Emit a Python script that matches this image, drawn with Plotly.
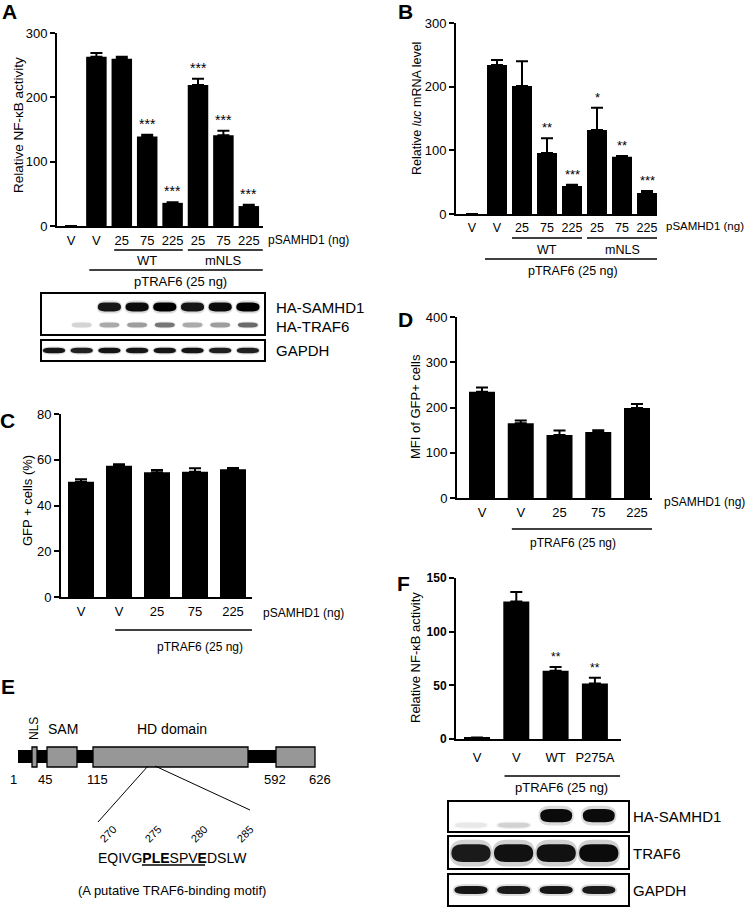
import plotly.graph_objects as go

# ---------------- data ----------------
A_labels = ["V", "V", "25", "75", "225", "25", "75", "225"]
A_values = [0, 263, 260, 139, 36, 219, 141, 31]
A_err_top = [0, 269, 263, 142, 37, 229, 148, 33]
A_stars = ["", "", "", "***", "***", "***", "***", "***"]

B_labels = ["V", "V", "25", "75", "225", "25", "75", "225"]
B_values = [0, 234, 201, 96, 44, 132, 90, 33]
B_err_top = [0, 242, 240, 119, 46, 167, 91, 36]
B_stars = ["", "", "", "**", "***", "*", "**", "***"]

C_labels = ["V", "V", "25", "75", "225"]
C_values = [50.4, 57.4, 54.5, 54.8, 55.9]
C_err_top = [51.5, 58.0, 55.5, 56.3, 56.4]

D_labels = ["V", "V", "25", "75", "225"]
D_values = [235, 165, 139, 146, 199]
D_err_top = [244, 171, 149, 150, 208]

F_labels = ["V", "V", "WT", "P275A"]
F_values = [1, 128, 63.5, 51.7]
F_err_top = [1.5, 137, 67, 57]
F_stars = ["", "", "**", "**"]

# western blot band intensities (0 = no band, 1 = saturated)
blotA_ha_samhd1 = [0, 0, 0.9, 0.95, 1.0, 0.9, 0.95, 1.0]
blotA_ha_traf6 = [0, 0.15, 0.3, 0.35, 0.5, 0.3, 0.35, 0.55]
blotA_gapdh = [0.9, 0.85, 0.9, 0.9, 0.9, 0.9, 0.85, 0.85]
blotF_ha_samhd1 = [0.06, 0.12, 0.95, 0.95]
blotF_traf6 = [0.88, 0.92, 0.92, 0.95]
blotF_gapdh = [0.9, 0.88, 0.9, 0.88]

E_residues = ["1", "45", "115", "592", "626"]
E_domains = ["NLS", "SAM", "HD domain"]
E_motif_numbers = ["270", "275", "280", "285"]
E_sequence = "EQIVG<b>PLE</b>SPV<b>E</b>DSLW"
E_caption = "(A putative TRAF6-binding motif)"

# ---------------- helpers ----------------
W, H = 748, 908
FONT = "Arial, 'Liberation Sans', Helvetica, sans-serif"


def fx(p):
    return p / W


def fy(p):
    return 1 - p / H


fig = go.Figure()
layout = dict(width=W, height=H, margin=dict(l=0, r=0, t=0, b=0, pad=0),
              paper_bgcolor="white", plot_bgcolor="rgba(0,0,0,0)",
              showlegend=False, font=dict(family=FONT, size=13, color="black"))
shapes = []
annotations = []


def axn(i, letter):
    return f"{letter}axis" if i == 1 else f"{letter}axis{i}"


def rf(i, letter):
    return letter if i == 1 else f"{letter}{i}"


def bar_panel(i, labels, vals, errs, stars, x_px, first_px, step_px, barw_px,
              y_px, yrange, yticks, bold_y=False, tick_standoff=1, xfont=13, star_size=14):
    n = len(vals)
    left = -(first_px - x_px[0]) / step_px
    right = (x_px[1] - first_px) / step_px
    xs = list(range(n))
    fig.add_trace(go.Bar(
        x=xs, y=vals, width=barw_px / step_px,
        marker=dict(color="black", line=dict(width=0)),
        error_y=dict(type="data", symmetric=False,
                     array=[e - v for e, v in zip(errs, vals)],
                     arrayminus=[0] * n, color="black", thickness=2, width=6),
        xaxis=rf(i, "x"), yaxis=rf(i, "y"), hoverinfo="skip"))
    if stars:
        for xv, ev, st in zip(xs, errs, stars):
            if st:
                annotations.append(dict(text=st, xref=rf(i, "x"), yref=rf(i, "y"),
                                        x=xv, y=ev, xanchor="center", yanchor="bottom",
                                        yshift=1, showarrow=False,
                                        font=dict(size=star_size)))
    layout[axn(i, "x")] = dict(
        domain=[fx(x_px[0]), fx(x_px[1])], range=[left, right], anchor=rf(i, "y"),
        showline=True, linewidth=2, linecolor="black", ticks="",
        tickvals=xs, ticktext=labels, showgrid=False, zeroline=False,
        tickfont=dict(size=xfont), ticklabelstandoff=tick_standoff, fixedrange=True,
        automargin=False)
    layout[axn(i, "y")] = dict(
        domain=[fy(y_px[0]), fy(y_px[1])], range=yrange, anchor=rf(i, "x"),
        showline=True, linewidth=2, linecolor="black", ticks="outside",
        ticklen=5, tickwidth=2, tickcolor="black", tickvals=yticks,
        showgrid=False, zeroline=False, fixedrange=True, automargin=False,
        tickfont=dict(size=13 if not bold_y else 12,
                      weight="bold" if bold_y else "normal"))


def hline(i, x0, x1, ypx):
    shapes.append(dict(type="line", xref=rf(i, "x"), yref="paper", x0=x0, x1=x1,
                       y0=fy(ypx), y1=fy(ypx), line=dict(color="black", width=1.5)))


def ptext(txt, xpx, ypx, size=13, xanchor="center", angle=0, **kw):
    annotations.append(dict(text=txt, xref="paper", yref="paper", x=fx(xpx), y=fy(ypx),
                            xanchor=xanchor, yanchor="middle", showarrow=False,
                            textangle=angle, borderpad=0, font=dict(size=size, **kw)))


def dtext(i, txt, x, ypx, size=13):
    annotations.append(dict(text=txt, xref=rf(i, "x"), yref="paper", x=x, y=fy(ypx),
                            xanchor="center", yanchor="middle", showarrow=False,
                            font=dict(size=size)))


def blot_axis(i, x_px, y_px, first_px, step_px):
    left = -(first_px - x_px[0]) / step_px
    right = (x_px[1] - first_px) / step_px
    common = dict(showline=True, mirror=True, linewidth=1.5, linecolor="black",
                  ticks="", showticklabels=False, showgrid=False, zeroline=False,
                  fixedrange=True, automargin=False)
    layout[axn(i, "x")] = dict(domain=[fx(x_px[0]), fx(x_px[1])], range=[left, right],
                               anchor=rf(i, "y"), **common)
    layout[axn(i, "y")] = dict(domain=[fy(y_px[1]), fy(y_px[0])], range=[0, 1],
                               anchor=rf(i, "x"), **common)
    fig.add_trace(go.Scatter(x=[None], y=[None], xaxis=rf(i, "x"), yaxis=rf(i, "y"),
                             hoverinfo="skip"))


def stadium(x0, x1, y0, y1, rr=0.3):
    yc = (y0 + y1) / 2
    r = (x1 - x0) * rr
    return (f"M{x0 + r},{y0} L{x1 - r},{y0} Q{x1},{y0} {x1},{yc} Q{x1},{y1} {x1 - r},{y1} "
            f"L{x0 + r},{y1} Q{x0},{y1} {x0},{yc} Q{x0},{y0} {x0 + r},{y0} Z")


def bands(i, intens, yc, h, w, halo=0.15):
    for lane, v in enumerate(intens):
        if v <= 0:
            continue
        shapes.append(dict(type="path", xref=rf(i, "x"), yref=rf(i, "y"),
                           path=stadium(lane - w / 2 - 0.04, lane + w / 2 + 0.04,
                                        yc - h * 0.75, yc + h * 0.75, 0.35),
                           fillcolor=f"rgba(0,0,0,{halo * v:.3f})", line=dict(width=0)))
        shapes.append(dict(type="path", xref=rf(i, "x"), yref=rf(i, "y"),
                           path=stadium(lane - w / 2, lane + w / 2, yc - h / 2, yc + h / 2),
                           fillcolor=f"rgba(0,0,0,{v:.3f})", line=dict(width=0)))


# ---------------- panel A ----------------
bar_panel(1, A_labels, A_values, A_err_top, A_stars, (57, 263), 71, 25.4, 20.5,
          (226, 33), [0, 300], [0, 100, 200, 300])
ptext("pSAMHD1 (ng)", 267, 240, 12, xanchor="left")
hline(1, 1.7, 4.4, 250)
hline(1, 4.6, 7.55, 250)
dtext(1, "WT", 3, 261)
dtext(1, "mNLS", 6, 261)
hline(1, 0.72, 7.55, 270)
dtext(1, "pTRAF6 (25 ng)", 4.3, 281)
ptext("Relative NF-κB activity", 18, 125, 13.5, angle=-90)
ptext("<b>A</b>", 9, 11, 21)

# blot A
blot_axis(6, (42, 264), (294, 334), 54, 27.7)
blot_axis(7, (42, 264), (341, 360), 54, 27.7)
bands(6, blotA_ha_samhd1, 0.675, 0.22, 0.84)
bands(6, blotA_ha_traf6, 0.225, 0.12, 0.72)
bands(7, blotA_gapdh, 0.5, 0.28, 0.8)
ptext("HA-SAMHD1", 275, 307, 15, xanchor="left")
ptext("HA-TRAF6", 275, 327, 15, xanchor="left")
ptext("GAPDH", 275, 351, 15, xanchor="left")

# ---------------- panel B ----------------
bar_panel(2, B_labels, B_values, B_err_top, B_stars, (456, 657), 472, 25, 20,
          (214, 23), [0, 300], [0, 100, 200, 300], xfont=12.5, star_size=13)
ptext("pSAMHD1 (ng)", 665, 226, 11.5, xanchor="left")
hline(2, 1.6, 4.4, 238)
hline(2, 4.6, 7.4, 238)
dtext(2, "WT", 3, 250, 12.5)
dtext(2, "mNLS", 6, 250, 12.5)
hline(2, 0.52, 7.4, 259)
dtext(2, "pTRAF6 (25 ng)", 4.05, 271, 12.5)
ptext("Relative <i>luc</i> mRNA level", 417, 109, 12.5, angle=-90)
ptext("<b>B</b>", 405, 11, 21)

# ---------------- panel C ----------------
bar_panel(3, C_labels, C_values, C_err_top, None, (61, 252), 81, 38, 26,
          (597, 414), [0, 80], [0, 20, 40, 60, 80])
ptext("pSAMHD1 (ng)", 262, 613, 12, xanchor="left")
hline(3, 0.9, 4.5, 630)
dtext(3, "pTRAF6 (25 ng)", 3.13, 647, 12)
ptext("GFP + cells (%)", 28, 500, 13, angle=-90)
ptext("<b>C</b>", 8, 420, 21)

# ---------------- panel D ----------------
bar_panel(4, D_labels, D_values, D_err_top, None, (457, 652), 482, 38.75, 26,
          (498, 317), [0, 400], [0, 100, 200, 300, 400])
ptext("pSAMHD1 (ng)", 663, 502, 12, xanchor="left")
hline(4, 0.77, 4.6, 529)
dtext(4, "pTRAF6 (25 ng)", 2.35, 543, 12)
ptext("MFI of GFP+ cells", 415, 407, 13, angle=-90)
ptext("<b>D</b>", 406, 319, 21)

# ---------------- panel F ----------------
bar_panel(5, F_labels, F_values, F_err_top, F_stars, (456, 621), 477, 39.3, 26,
          (739, 578), [0, 150], [0, 50, 100, 150], bold_y=True, tick_standoff=5,
          star_size=12)
hline(5, 0.7, 3.64, 776)
dtext(5, "pTRAF6 (25 ng)", 2.16, 787, 13)
ptext("Relative NF-κB activity", 415, 658, 13, angle=-90)
ptext("<b>F</b>", 403, 583, 21)

# blot F
blot_axis(8, (449, 628), (802, 831), 471, 42.6)
blot_axis(9, (449, 628), (837, 868), 471, 42.6)
blot_axis(10, (449, 628), (875, 905), 471, 42.6)
bands(8, [v if v > 0.5 else 0 for v in blotF_ha_samhd1], 0.53, 0.45, 0.75)
bands(8, [v if v <= 0.5 else 0 for v in blotF_ha_samhd1], 0.2, 0.17, 0.75, halo=0.5)
bands(9, blotF_traf6, 0.48, 0.58, 0.92, halo=0.2)
bands(10, blotF_gapdh, 0.5, 0.27, 0.78)
ptext("HA-SAMHD1", 632, 816, 15, xanchor="left")
ptext("TRAF6", 632, 853, 15, xanchor="left")
ptext("GAPDH", 632, 890, 15, xanchor="left")

# ---------------- panel E (domain diagram, pixel-unit axis) ----------------
E = 11
layout[axn(E, "x")] = dict(domain=[0, fx(374)], range=[0, 374], visible=False,
                           anchor=rf(E, "y"), fixedrange=True, automargin=False)
layout[axn(E, "y")] = dict(domain=[0, fy(700)], range=[908, 700], visible=False,
                           anchor=rf(E, "x"), fixedrange=True, automargin=False)
fig.add_trace(go.Scatter(x=[None], y=[None], xaxis=rf(E, "x"), yaxis=rf(E, "y"),
                         hoverinfo="skip"))
GRAY = "#979797"
ex, ey = rf(E, "x"), rf(E, "y")
shapes.append(dict(type="rect", xref=ex, yref=ey, x0=18, x1=278, y0=750, y1=763,
                   fillcolor="black", line=dict(width=0)))
for (x0, x1) in [(32, 37), (47, 77), (93, 248), (276, 315)]:
    shapes.append(dict(type="rect", xref=ex, yref=ey, x0=x0, x1=x1, y0=747, y1=767,
                       fillcolor=GRAY, line=dict(color="black", width=1.3)))
for lbl, xp in zip(E_residues, [13, 45, 97, 275, 320]):
    annotations.append(dict(text=lbl, xref=ex, yref=ey, x=xp, y=779, showarrow=False,
                            xanchor="center", yanchor="middle", font=dict(size=13)))
for lbl, xp, ang in zip(E_domains, [34, 63, 172], [-90, 0, 0]):
    annotations.append(dict(text=lbl, xref=ex, yref=ey, x=xp, y=729, showarrow=False,
                            xanchor="center", yanchor="middle", textangle=ang,
                            font=dict(size=12 if ang else 14)))
shapes.append(dict(type="line", xref=ex, yref=ey, x0=148, y0=766, x1=98, y1=822,
                   line=dict(color="black", width=1)))
shapes.append(dict(type="line", xref=ex, yref=ey, x0=155, y0=766, x1=250, y1=810,
                   line=dict(color="black", width=1)))
for lbl, xp in zip(E_motif_numbers, [108, 153, 199, 245]):
    annotations.append(dict(text=lbl, xref=ex, yref=ey, x=xp, y=834, showarrow=False,
                            xanchor="center", yanchor="middle", textangle=-45,
                            font=dict(size=11)))
annotations.append(dict(text=E_sequence, xref=ex, yref=ey, x=172, y=858, showarrow=False,
                        xanchor="center", yanchor="middle", font=dict(size=14)))
shapes.append(dict(type="line", xref=ex, yref=ey, x0=142, y0=865, x1=205, y1=865,
                   line=dict(color="black", width=1.3)))
annotations.append(dict(text=E_caption, xref=ex, yref=ey, x=172, y=890, showarrow=False,
                        xanchor="center", yanchor="middle", font=dict(size=13)))
ptext("<b>E</b>", 8, 686, 21)

layout["shapes"] = shapes
layout["annotations"] = annotations
fig.update_layout(**layout)
fig.write_html("out.html", config={"displayModeBar": False, "responsive": False},
               post_script="document.body.style.margin='0';")
